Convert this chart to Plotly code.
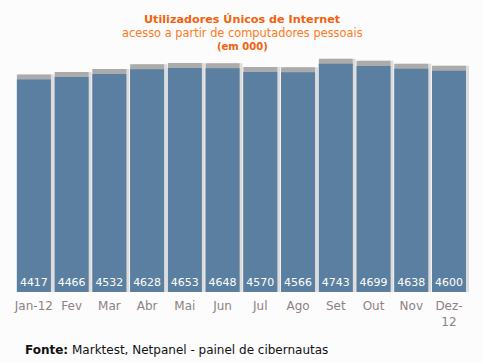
import plotly.graph_objects as go

months = ["Jan-12", "Fev", "Mar", "Abr", "Mai", "Jun", "Jul", "Ago", "Set", "Out", "Nov", "Dez-<br>12"]
users = [4417, 4466, 4532, 4628, 4653, 4648, 4570, 4566, 4743, 4699, 4638, 4600]

shadow_top = 104  # visual cap height (data units)

fig = go.Figure()
# right side soft shadow
fig.add_trace(go.Bar(x=months, y=[v + shadow_top for v in users], width=0.9, offset=-0.37,
                     marker=dict(color="#dcdcdc", line=dict(width=0)), hoverinfo="skip"))
# top cap shadow
fig.add_trace(go.Bar(x=months, y=[v + shadow_top for v in users], width=0.9, offset=-0.45,
                     marker=dict(color="#ababab", line=dict(width=0)), hoverinfo="skip"))
# main bars
fig.add_trace(go.Bar(x=months, y=users, width=0.9, offset=-0.45,
                     marker=dict(color="#5b7fa0", line=dict(width=0)),
                     text=[str(v) for v in users], textposition="inside",
                     insidetextanchor="start", textangle=0,
                     textfont=dict(color="white", size=11.5, family="DejaVu Sans")))

plot_t, plot_b, plot_l, plot_r = 55, 71, 15, 13
W, H = 482, 363
plot_h = H - plot_t - plot_b
plot_w = W - plot_l - plot_r


def py(ypix):
    return (H - plot_b - ypix) / plot_h


def px(xpix):
    return (xpix - plot_l) / plot_w


fig.update_layout(
    width=W, height=H,
    barmode="overlay",
    showlegend=False,
    paper_bgcolor="#fcfcfc", plot_bgcolor="#fcfcfc",
    margin=dict(l=plot_l, r=plot_r, t=plot_t, b=plot_b),
    font=dict(family="DejaVu Sans", size=12, color="#8a7d7d"),
    xaxis=dict(showgrid=False, showline=False, ticks="", ticklabelstandoff=5,
               tickfont=dict(size=12, color="#8d8282")),
    yaxis=dict(range=[0, 4925], visible=False),
    uniformtext=dict(minsize=8, mode="show"),
    annotations=[
        dict(text="<b>Utilizadores Únicos de Internet</b>", x=0.5, xref="paper", y=py(19), yref="paper",
             yanchor="middle", showarrow=False, font=dict(size=11.2, color="#f0620e")),
        dict(text="acesso a partir de computadores pessoais", x=0.5, xref="paper",
             y=py(33), yref="paper", yanchor="middle", showarrow=False,
             font=dict(size=11.4, color="#ff7a20")),
        dict(text="<b>(em 000)</b>", x=0.5, xref="paper",
             y=py(46), yref="paper", yanchor="middle", showarrow=False,
             font=dict(size=10, color="#f0620e")),
        dict(text="<b>Fonte:</b> Marktest, Netpanel - painel de cibernautas", x=px(23), xref="paper",
             y=py(350), yref="paper", xanchor="left", yanchor="middle", showarrow=False,
             font=dict(size=12, color="#111111")),
    ],
)

fig.write_html("out.html", config={"displayModeBar": False},
               post_script="document.body.style.margin='0';")
